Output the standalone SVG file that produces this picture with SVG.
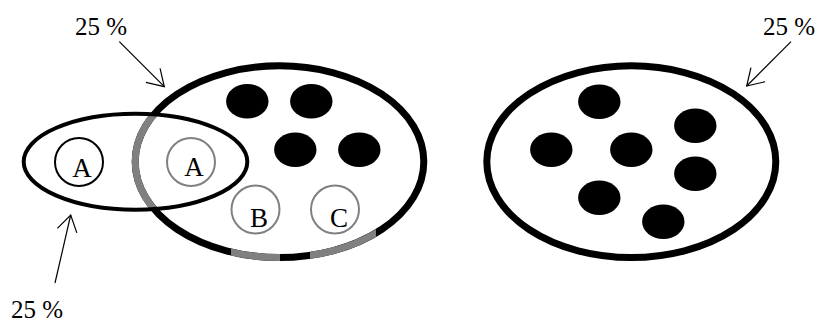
<svg xmlns="http://www.w3.org/2000/svg" width="816" height="324" viewBox="0 0 816 324">
<style>
.big{fill:none;stroke:#000;stroke-width:7}
.bigg{fill:none;stroke:#808080;stroke-width:7}
.small{fill:none;stroke:#000;stroke-width:4}
.dot{fill:#000}
.c{fill:none;stroke:#808080;stroke-width:2}
.cb{fill:none;stroke:#000;stroke-width:2}
.lbl{font-family:"Liberation Serif","Times New Roman",serif;font-size:27px;fill:#000;text-anchor:middle}
.pct{font-family:"Liberation Serif","Times New Roman",serif;font-size:25px;fill:#000}
.arr{fill:none;stroke:#000;stroke-width:1.2;marker-end:url(#open)}
</style>
<defs>
<marker id="open" markerUnits="userSpaceOnUse" markerWidth="24" markerHeight="24" viewBox="-20 -12 22 24" refX="0" refY="0" orient="auto">
<path d="M-16,-10 L0,0 L-16,10" fill="none" stroke="#000" stroke-width="1.2"/>
</marker>
<clipPath id="inSmall"><ellipse cx="135.5" cy="161.7" rx="111.8" ry="48"/></clipPath>
<clipPath id="bottomSeg"><rect x="231" y="220" width="49" height="50"/><rect x="310" y="220" width="66" height="50"/></clipPath>
</defs>
<g id="setMiddle">
<ellipse class="big" cx="279.5" cy="161.7" rx="144.3" ry="95.9"/>
<ellipse class="bigg" cx="279.5" cy="161.7" rx="144.3" ry="95.9" clip-path="url(#inSmall)"/>
<ellipse class="bigg" cx="279.5" cy="161.7" rx="144.3" ry="95.9" clip-path="url(#bottomSeg)"/>
<ellipse class="dot" cx="247.3" cy="101.3" rx="21.2" ry="17.3"/>
<ellipse class="dot" cx="311.3" cy="101.3" rx="21.2" ry="17.3"/>
<ellipse class="dot" cx="295.3" cy="149.7" rx="21.2" ry="17.3"/>
<ellipse class="dot" cx="359.3" cy="149.7" rx="21.2" ry="17.3"/>
</g>
<g id="setLeft">
<ellipse class="small" cx="135.5" cy="161.7" rx="111.8" ry="48"/>
</g>
<g id="nodeA1">
<circle class="cb" cx="79" cy="162" r="24"/>
<text class="lbl" x="82" y="177">A</text>
</g>
<g id="nodeA2">
<circle class="c" cx="191" cy="162" r="24"/>
<text class="lbl" x="194" y="176">A</text>
</g>
<g id="nodeB">
<circle class="c" cx="255.5" cy="209.5" r="24"/>
<text class="lbl" x="259" y="227">B</text>
</g>
<g id="nodeC">
<circle class="c" cx="335" cy="209.5" r="24"/>
<text class="lbl" x="339" y="227">C</text>
</g>
<g id="setRight">
<ellipse class="big" cx="631.3" cy="161.7" rx="144.5" ry="95.9"/>
<ellipse class="dot" cx="599.3" cy="101.7" rx="21.2" ry="17.3"/>
<ellipse class="dot" cx="695.3" cy="125.7" rx="21.2" ry="17.3"/>
<ellipse class="dot" cx="551.3" cy="149.7" rx="21.2" ry="17.3"/>
<ellipse class="dot" cx="631.3" cy="149.7" rx="21.2" ry="17.3"/>
<ellipse class="dot" cx="695.3" cy="173.7" rx="21.2" ry="17.3"/>
<ellipse class="dot" cx="599.3" cy="197.7" rx="21.2" ry="17.3"/>
<ellipse class="dot" cx="663.3" cy="221.7" rx="21.2" ry="17.3"/>
</g>
<g id="labels">
<text class="pct" x="75" y="35">25 %</text>
<text class="pct" x="763" y="35">25 %</text>
<text class="pct" x="11" y="318">25 %</text>
</g>
<g id="connectors">
<line class="arr" x1="119.3" y1="41.7" x2="164.3" y2="86.7"/>
<line class="arr" x1="55" y1="283" x2="70.7" y2="215"/>
<line class="arr" x1="791" y1="41.7" x2="746.7" y2="86"/>
</g>
</svg>
